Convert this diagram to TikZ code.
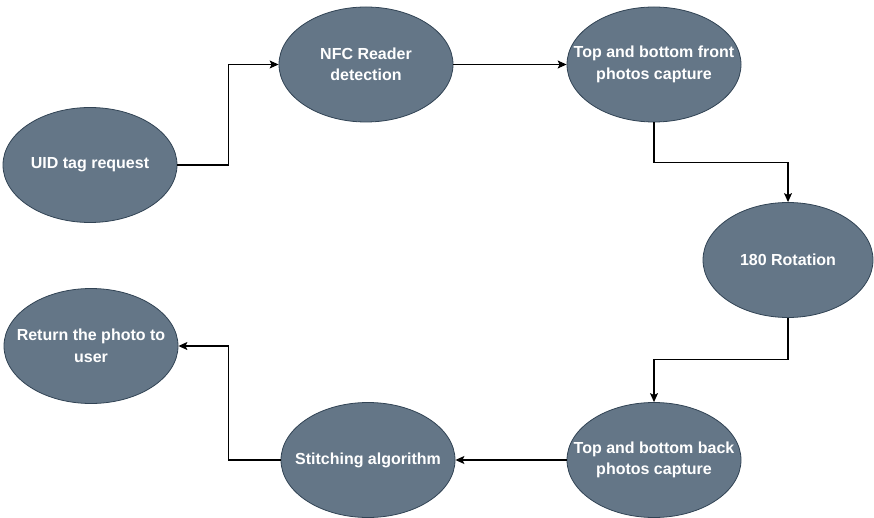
\documentclass[tikz,border=0pt]{standalone}
\usepackage{fontspec}
\setmainfont{Liberation Sans}
\usetikzlibrary{shapes.geometric,arrows.meta}
\definecolor{slatefill}{HTML}{647687}
\definecolor{slatedraw}{HTML}{314354}
\tikzset{
  proc/.style={ellipse, draw=slatedraw, line width=0.8pt, fill=slatefill,
    minimum width=174pt, minimum height=115pt, inner xsep=-22pt, inner ysep=0pt,
    text=white, align=center,
    font=\bfseries\fontsize{16}{21.5}\selectfont},
  conn/.style={draw=black, line width=1.1pt, -{Stealth[length=9pt,width=8pt,inset=2pt]}}
}
\begin{document}
\begin{tikzpicture}[x=1pt,y=-1pt]
\useasboundingbox (0,0) rectangle (874,518);
\node[proc] (uid) at (90,165) {UID tag request};
\node[proc] (nfc) at (366,64.5) {NFC Reader\\detection};
\node[proc] (front) at (654,64.5) {Top and bottom front\\photos capture};
\node[proc, minimum width=170pt] (rot) at (788,260) {180 Rotation};
\node[proc] (back) at (654,460) {Top and bottom back\\photos capture};
\node[proc] (stitch) at (368,460) {Stitching algorithm};
\node[proc] (ret) at (91,346) {Return the photo to\\user};

\draw[conn] (uid.east) -- ++(51,0) |- (nfc.west);
\draw[conn] (nfc.east) -- (front.west);
\draw[conn] (front.south) -- ++(0,40.5) -| (rot.north);
\draw[conn] (rot.south) -- ++(0,42) -| (back.north);
\draw[conn] (back.west) -- (stitch.east);
\draw[conn] (stitch.west) -- ++(-52,0) |- (ret.east);
\end{tikzpicture}
\end{document}
